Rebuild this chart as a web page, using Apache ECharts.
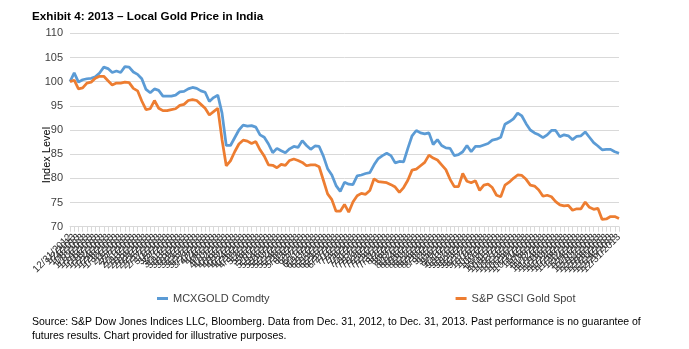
<!DOCTYPE html>
<html>
<head>
<meta charset="utf-8">
<script src="https://cdn.jsdelivr.net/npm/echarts@6/dist/echarts.min.js"></script>
<style>
html,body{margin:0;padding:0;background:#fff;}
#chart{width:689px;height:349px;}
</style>
</head>
<body>
<div id="chart"></div>
<script>
// Series values (index level, 31-Dec-2012 = 100), sampled every other weekday
const mcxGold = [
100.0,101.8,99.9,100.4,100.6,100.7,101.0,101.8,103.0,102.7,
101.9,102.2,101.9,103.1,103.0,102.0,101.5,100.6,98.4,97.7,
98.5,98.2,97.0,97.0,97.0,97.2,97.9,98.0,98.5,98.8,
98.6,98.1,97.8,95.9,96.7,97.2,93.5,86.8,86.8,88.4,
90.0,91.0,90.8,90.9,90.6,89.0,88.5,87.1,85.3,86.2,
85.7,85.3,86.1,86.6,86.4,87.8,86.8,86.0,86.7,86.6,
84.6,82.0,80.7,78.5,77.3,79.2,78.8,78.7,80.5,80.7,
81.0,81.2,82.8,84.1,84.7,85.2,84.7,83.2,83.5,83.4,
86.2,88.8,89.9,89.4,89.2,89.4,87.0,88.0,86.8,86.3,
86.2,84.7,84.9,85.5,86.8,85.5,86.6,86.6,86.9,87.2,
87.9,88.1,88.5,91.2,91.7,92.3,93.5,92.9,91.3,90.0,
89.4,89.0,88.4,89.0,89.9,89.9,88.6,89.0,88.8,88.0,
88.7,88.8,89.6,88.5,87.4,86.7,85.9,86.0,86.0,85.5,
85.2
];
const gsciGold = [
100.0,100.3,98.5,98.7,99.7,99.9,100.7,101.1,101.1,100.2,
99.3,99.7,99.7,99.9,99.8,98.6,98.1,96.0,94.2,94.4,
96.1,94.5,94.0,94.0,94.2,94.4,95.1,95.3,96.1,96.3,
96.1,95.3,94.5,93.1,93.8,94.5,88.0,82.6,83.6,85.5,
87.1,87.9,87.7,87.2,87.6,85.9,84.6,82.8,82.7,82.2,
82.9,82.7,83.7,84.0,83.7,83.3,82.6,82.8,82.8,82.4,
79.6,76.8,75.6,73.2,73.2,74.6,73.0,75.1,76.4,76.9,
76.7,77.5,79.9,79.3,79.2,79.1,78.7,78.2,77.1,78.1,
79.6,81.7,81.9,82.6,83.3,84.8,84.2,83.8,82.8,81.8,
79.8,78.3,78.3,81.0,79.4,79.1,79.5,77.5,78.6,78.8,
78.1,76.5,76.2,78.6,79.2,80.0,80.7,80.6,79.8,78.6,
78.4,77.6,76.3,76.5,76.2,75.2,74.5,74.3,74.4,73.4,
73.7,73.7,75.1,74.0,73.6,73.8,71.5,71.6,72.1,72.1,
71.7
];
const seriesNames = ['MCXGOLD Comdty', 'S&P GSCI Gold Spot'];
const yTicks = [70, 75, 80, 85, 90, 95, 100, 105, 110];
const titleText = 'Exhibit 4: 2013 \u2013 Local Gold Price in India';
const yAxisTitle = 'Index Level';
const sourceText = 'Source: S&P Dow Jones Indices LLC, Bloomberg. Data from Dec. 31, 2012, to Dec. 31, 2013. Past performance is no guarantee of\nfutures results. Chart provided for illustrative purposes.';

// Category labels: every other weekday from 12/31/2012 to 12/31/2013
const weekdays = [];
for (let d = new Date(2012, 11, 31); d <= new Date(2013, 11, 31); d.setDate(d.getDate() + 1)) {
  const wd = d.getDay();
  if (wd !== 0 && wd !== 6) weekdays.push((d.getMonth() + 1) + '/' + d.getDate() + '/' + d.getFullYear());
}
const categories = [];
for (let i = 0; i < mcxGold.length - 1; i++) categories.push(weekdays[i * 2]);
categories.push(weekdays[weekdays.length - 1]);

const FONT = 'Liberation Sans, Arial, sans-serif';
const chart = echarts.init(document.getElementById('chart'), null, {renderer: 'canvas'});
chart.setOption({
  animation: false,
  backgroundColor: '#ffffff',
  textStyle: {fontFamily: FONT},
  title: {
    text: titleText,
    left: 32, top: 10.5, padding: 0,
    textStyle: {fontSize: 11.7, fontWeight: 'bold', color: '#000', fontFamily: FONT}
  },
  legend: {
    data: seriesNames,
    left: 152, top: 288,
    icon: 'rect', itemWidth: 11, itemHeight: 3, itemGap: 186,
    textStyle: {fontSize: 11, color: '#404040', fontFamily: FONT}
  },
  grid: {left: 70, right: 70, top: 33.3, bottom: 122.3, containLabel: false},
  xAxis: {
    type: 'category',
    data: categories,
    boundaryGap: false,
    axisLine: {lineStyle: {color: '#d9d9d9', width: 1}},
    axisTick: {show: true, interval: 0, length: 5, lineStyle: {color: '#d9d9d9'}},
    axisLabel: {interval: 0, rotate: 45, fontSize: 10, color: '#303030', margin: 9, fontFamily: FONT},
    splitLine: {show: false}
  },
  yAxis: {
    type: 'value',
    min: yTicks[0], max: yTicks[yTicks.length - 1], interval: 5,
    axisLine: {show: false},
    axisTick: {show: false},
    axisLabel: {fontSize: 11, color: '#404040', margin: 7, fontFamily: FONT},
    splitLine: {lineStyle: {color: '#d9d9d9', width: 1}}
  },
  graphic: [
    {
      type: 'text', x: 47, y: 155, rotation: Math.PI / 2,
      style: {text: yAxisTitle, font: '11px ' + FONT, fill: '#000', textAlign: 'center', textVerticalAlign: 'middle'}
    },
    {
      type: 'text', left: 32, top: 315,
      style: {text: sourceText, font: '10.5px ' + FONT, fill: '#000', lineHeight: 14}
    }
  ],
  series: [
    {name: seriesNames[0], type: 'line', data: mcxGold, showSymbol: false, symbol: 'none',
     lineStyle: {color: '#5B9BD5', width: 2.75}, itemStyle: {color: '#5B9BD5'}},
    {name: seriesNames[1], type: 'line', data: gsciGold, showSymbol: false, symbol: 'none',
     lineStyle: {color: '#ED7D31', width: 2.75}, itemStyle: {color: '#ED7D31'}}
  ]
});
</script>
</body>
</html>
